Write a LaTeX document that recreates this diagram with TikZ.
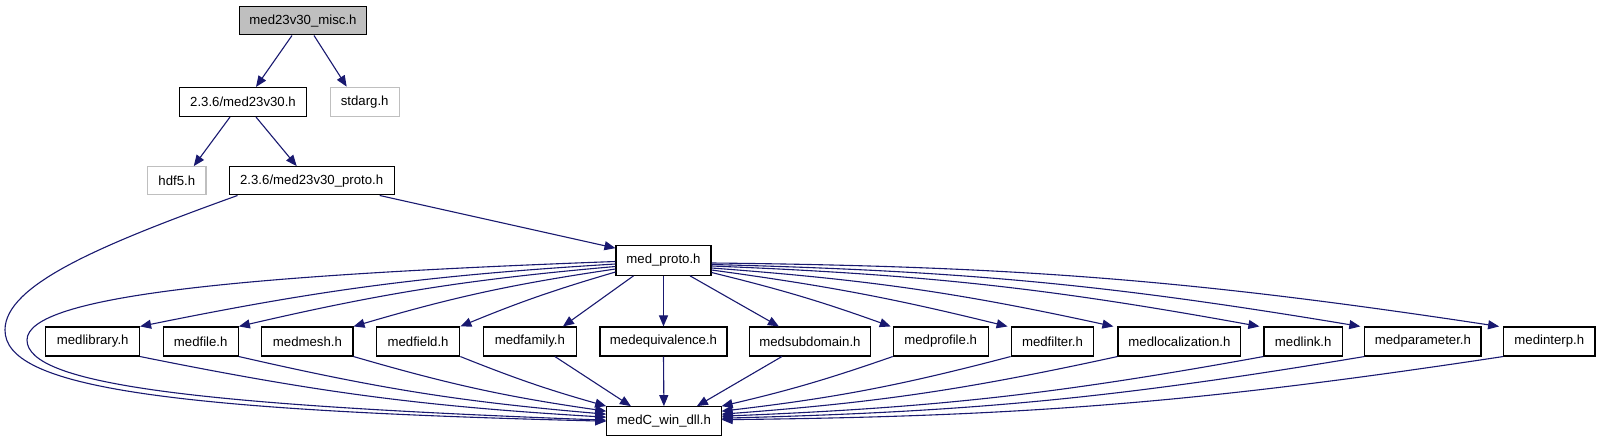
\documentclass[tikz,border=0pt]{standalone}
\usepackage{fontspec}
\setmainfont{Liberation Sans}
\usetikzlibrary{arrows.meta,calc}
\definecolor{edgec}{HTML}{191970}
\definecolor{grayb}{HTML}{BFBFBF}
\begin{document}
\begin{tikzpicture}[x=1pt,y=-1pt,
  box/.style={draw=black,line width=1.1pt,fill=white,inner sep=0pt,minimum height=29pt,font=\fontsize{13.2pt}{15pt}\selectfont},
  gbox/.style={box,draw=grayb},
  edge/.style={draw=edgec,line width=1.1pt,-{Triangle[length=11pt,width=9pt]},fill=none}]
\useasboundingbox[fill=white] (0,0) rectangle (1601,443);
% top part
\node[box,fill=grayb,minimum width=127.4pt,minimum height=28.3pt] (misc) at (303,20.8) {med23v30\_misc.h};
\node[box,minimum width=127.4pt] (m23) at (243,102) {2.3.6/med23v30.h};
\node[gbox,minimum width=69.3pt] (stdarg) at (364.7,101.7) {stdarg.h};
\node[gbox,minimum width=58.3pt,minimum height=28.3pt] (hdf5) at (176.8,180.8) {hdf5.h};
\node[box,minimum width=165.3pt,minimum height=28.3pt] (proto23) at (311.7,180.8) {2.3.6/med23v30\_proto.h};
\node[box,minimum width=95pt,minimum height=29.6pt] (medproto) at (663.5,260.5) {med\_proto.h};
% row
\node[box,minimum width=93.7pt] (medlibrary) at (92.7,341.5) {medlibrary.h};
\node[box,minimum width=75.3pt] (medfile) at (200.7,341.5) {medfile.h};
\node[box,minimum width=91.2pt] (medmesh) at (307.4,341.5) {medmesh.h};
\node[box,minimum width=83.4pt] (medfield) at (418.1,341.5) {medfield.h};
\node[box,minimum width=93.3pt] (medfamily) at (529.9,341.5) {medfamily.h};
\node[box,minimum width=127pt] (medequivalence) at (663.5,341.5) {medequivalence.h};
\node[box,minimum width=120.9pt] (medsubdomain) at (809.9,341.5) {medsubdomain.h};
\node[box,minimum width=94.8pt] (medprofile) at (940.7,341.5) {medprofile.h};
\node[box,minimum width=82.7pt] (medfilter) at (1052.5,341.5) {medfilter.h};
\node[box,minimum width=122.9pt] (medlocalization) at (1179.4,341.5) {medlocalization.h};
\node[box,minimum width=78.5pt] (medlink) at (1303.2,341.5) {medlink.h};
\node[box,minimum width=116.1pt] (medparameter) at (1422.9,341.5) {medparameter.h};
\node[box,minimum width=91.3pt] (medinterp) at (1549.3,341.5) {medinterp.h};
\node[box,minimum width=114.3pt] (medC) at (663.9,421.2) {medC\_win\_dll.h};
% top edges
\draw[edge] ([xshift=-11pt]misc.south) -- ([xshift=13pt]m23.north);
\draw[edge] ([xshift=11pt]misc.south) -- ([xshift=-18pt]stdarg.north);
\draw[edge] ([xshift=-13pt]m23.south) -- ([xshift=17pt]hdf5.north);
\draw[edge] ([xshift=13pt]m23.south) -- ([xshift=-15pt]proto23.north);
\draw[edge] ([xshift=68pt]proto23.south) -- ([yshift=-3pt]medproto.north west);
% big curves
\draw[edge] ([xshift=9pt]proto23.south west) .. controls (100,245) and (5,285) .. (5,330)
   .. controls (5,385) and (150,410) .. ([yshift=0pt]medC.west);
\draw[edge] ([yshift=-1pt]medproto.west) .. controls (250,275) and (27,295) .. (27,340)
   .. controls (27,385) and (200,405) .. ([yshift=1pt]medC.west);
% medproto -> left row
\draw[edge] ([yshift=-3.5pt]medproto.west) to[bend right=4] (medlibrary.north east);
\draw[edge] ([yshift=-6pt]medproto.west) to[bend right=4] (medfile.north east);
\draw[edge] ([yshift=-8.5pt]medproto.west) to[bend right=4] (medmesh.north east);
\draw[edge] ([yshift=-11.5pt]medproto.west) to[bend right=3] (medfield.north east);
\draw[edge] ([xshift=-30pt]medproto.south) -- ([xshift=33pt]medfamily.north);
\draw[edge] (medproto.south) -- (medequivalence.north);
\draw[edge] ([xshift=26.5pt]medproto.south) -- ([xshift=-31pt]medsubdomain.north);
% medproto -> right row
\draw[edge] ([yshift=-12pt]medproto.east) to[bend left=3] ([xshift=-2pt]medprofile.north west);
\draw[edge] ([yshift=-9.5pt]medproto.east) to[bend left=3] ([xshift=-3pt]medfilter.north west);
\draw[edge] ([yshift=-7.5pt]medproto.east) to[bend left=4] ([xshift=-4pt]medlocalization.north west);
\draw[edge] ([yshift=-5.5pt]medproto.east) to[bend left=4] ([xshift=-4pt]medlink.north west);
\draw[edge] ([yshift=-4pt]medproto.east) to[bend left=4] ([xshift=-4pt]medparameter.north west);
\draw[edge] ([yshift=-2.5pt]medproto.east) to[bend left=4] ([xshift=-4pt]medinterp.north west);
% row -> medC left
\draw[edge] (medlibrary.south east) to[bend right=4] ([yshift=4pt]medC.west);
\draw[edge] (medfile.south east) to[bend right=4] ([yshift=7pt]medC.west);
\draw[edge] (medmesh.south east) to[bend right=4] ([yshift=10pt]medC.west);
\draw[edge] (medfield.south east) to[bend right=3] (medC.north west);
\draw[edge] ([xshift=25pt]medfamily.south) -- ([xshift=-33pt]medC.north);
\draw[edge] (medequivalence.south) -- (medC.north);
\draw[edge] ([xshift=-28pt]medsubdomain.south) -- ([xshift=33pt]medC.north);
% row -> medC right
\draw[edge] (medprofile.south west) to[bend left=3] (medC.north east);
\draw[edge] (medfilter.south west) to[bend left=4] ([yshift=10pt]medC.east);
\draw[edge] (medlocalization.south west) to[bend left=4] ([yshift=7pt]medC.east);
\draw[edge] (medlink.south west) to[bend left=4] ([yshift=5pt]medC.east);
\draw[edge] (medparameter.south west) to[bend left=4] ([yshift=3pt]medC.east);
\draw[edge] (medinterp.south west) to[bend left=4] ([yshift=1.5pt]medC.east);
\end{tikzpicture}
\end{document}
